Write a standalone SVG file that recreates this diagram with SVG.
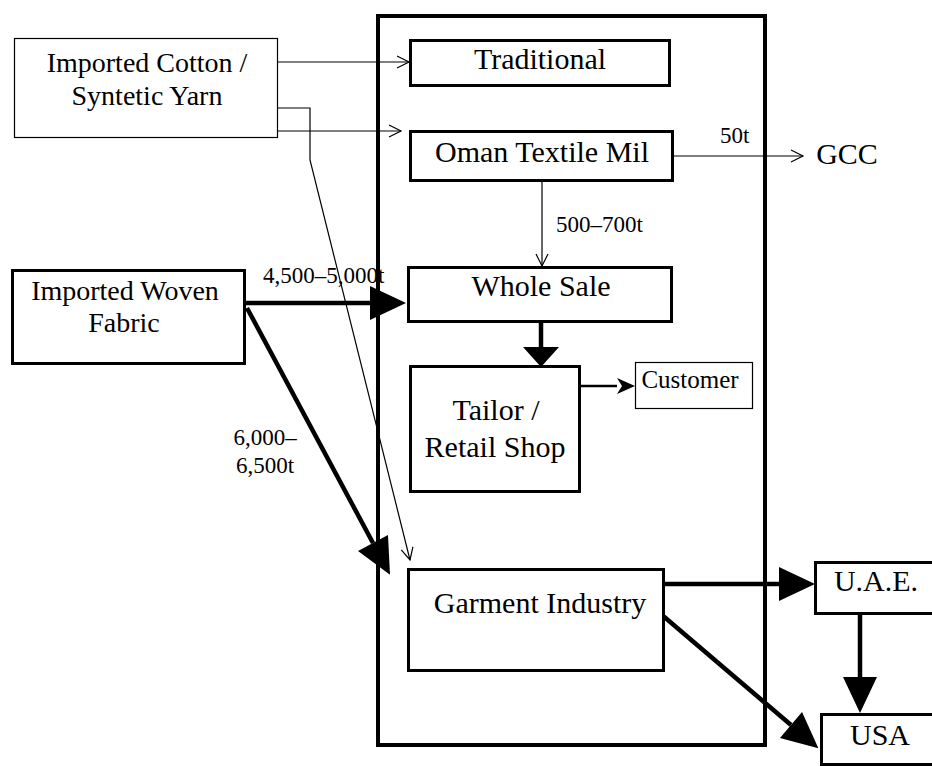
<svg xmlns="http://www.w3.org/2000/svg" width="932" height="766" viewBox="0 0 932 766">
<style>
text{font-family:"Liberation Serif","Times New Roman",serif;fill:#000;text-anchor:middle}
.t28{font-size:28px}.t30{font-size:30px}.t25{font-size:25px}.lbl{font-size:23px}
.box{fill:#fff;stroke:#000;stroke-width:3}
.thin{fill:#fff;stroke:#000;stroke-width:1.2}
.c1{fill:none;stroke:#000;stroke-width:1.2}
.c4{fill:none;stroke:#000;stroke-width:4.5}
.c2{fill:none;stroke:#000;stroke-width:2.5}
</style>
<defs>
<marker id="open" markerUnits="userSpaceOnUse" markerWidth="14" markerHeight="14" refX="13" refY="7" orient="auto" overflow="visible"><path d="M1,1 L13,7 L1,13" fill="none" stroke="#000" stroke-width="1.2"/></marker>
<marker id="big" markerUnits="userSpaceOnUse" markerWidth="36" markerHeight="34" refX="0" refY="17" orient="auto" overflow="visible"><path d="M0,0 L36,17 L0,34 Z" fill="#000"/></marker>
<marker id="wide" markerUnits="userSpaceOnUse" markerWidth="20" markerHeight="36" refX="0" refY="18" orient="auto" overflow="visible"><path d="M0,0 L20,18 L0,36 Z" fill="#000"/></marker>
<marker id="mid" markerUnits="userSpaceOnUse" markerWidth="18" markerHeight="16" refX="0" refY="8" orient="auto" overflow="visible"><path d="M0,0 L18,8 L0,16 L5,8 Z" fill="#000"/></marker>
</defs>
<rect width="932" height="766" fill="#fff"/>
<g id="oman-sector"><rect x="378" y="16" width="387" height="729" fill="none" stroke="#000" stroke-width="4"/></g>
<g id="connectors">
<path class="c1" d="M278,62 H409" marker-end="url(#open)"/>
<path class="c1" d="M278,131 H401" marker-end="url(#open)"/>
<path class="c1" d="M278,108 H310 V160 L410,560" marker-end="url(#open)"/>
<path class="c1" d="M542,182 V266" marker-end="url(#open)"/>
<path class="c1" d="M674,156 H803" marker-end="url(#open)"/>
<path class="c4" d="M246,303 H370" marker-end="url(#big)"/>
<path class="c4" d="M247,308 L373,543" marker-end="url(#big)"/>
<path class="c4" d="M541,323 V347" marker-end="url(#wide)"/>
<path class="c2" d="M581,386 H617" marker-end="url(#mid)"/>
<path class="c4" d="M665,584 H779" marker-end="url(#big)"/>
<path class="c4" d="M860,615 V677" marker-end="url(#big)"/>
<path class="c4" d="M662,615 L791,725" marker-end="url(#big)"/>
<text class="lbl" x="720" y="143" style="text-anchor:start">50t</text>
<text class="lbl" x="556" y="232" style="text-anchor:start">500–700t</text>
<text class="lbl" x="263" y="283" style="text-anchor:start">4,500–5,000t</text>
<text class="lbl" x="265" y="445">6,000–</text>
<text class="lbl" x="265" y="473">6,500t</text>
</g>
<g id="cotton"><rect class="thin" x="14.5" y="38.5" width="263" height="99"/><text class="t28" x="147" y="72">Imported Cotton /</text><text class="t28" x="147" y="105">Syntetic Yarn</text></g>
<g id="traditional"><rect class="box" x="410.5" y="40.5" width="259" height="45"/><text class="t30" x="540" y="69">Traditional</text></g>
<g id="oman-textile"><rect class="box" x="410.5" y="131.5" width="262" height="49"/><text class="t30" x="542" y="162">Oman Textile Mil</text></g>
<g id="gcc"><text class="t30" x="847" y="164">GCC</text></g>
<g id="wholesale"><rect class="box" x="408.5" y="267.5" width="263" height="54"/><text class="t30" x="541" y="296">Whole Sale</text></g>
<g id="woven"><rect class="box" x="12.5" y="270.5" width="232" height="93"/><text class="t28" x="125" y="300">Imported Woven</text><text class="t28" x="124" y="332">Fabric</text></g>
<g id="tailor"><rect class="box" x="410.5" y="366.5" width="169" height="125"/><text class="t30" x="496" y="420">Tailor /</text><text class="t30" x="495" y="457">Retail Shop</text></g>
<g id="customer"><rect class="thin" x="635.5" y="362.5" width="117" height="46"/><text class="t25" x="690" y="388">Customer</text></g>
<g id="garment"><rect class="box" x="408.5" y="569.5" width="255" height="101"/><text class="t30" x="540" y="613">Garment Industry</text></g>
<g id="uae"><rect class="box" x="815.5" y="562.5" width="130" height="51"/><text class="t30" x="876" y="591">U.A.E.</text></g>
<g id="usa"><rect class="box" x="821.5" y="714.5" width="120" height="50"/><text class="t30" x="880" y="745">USA</text></g>
</svg>
